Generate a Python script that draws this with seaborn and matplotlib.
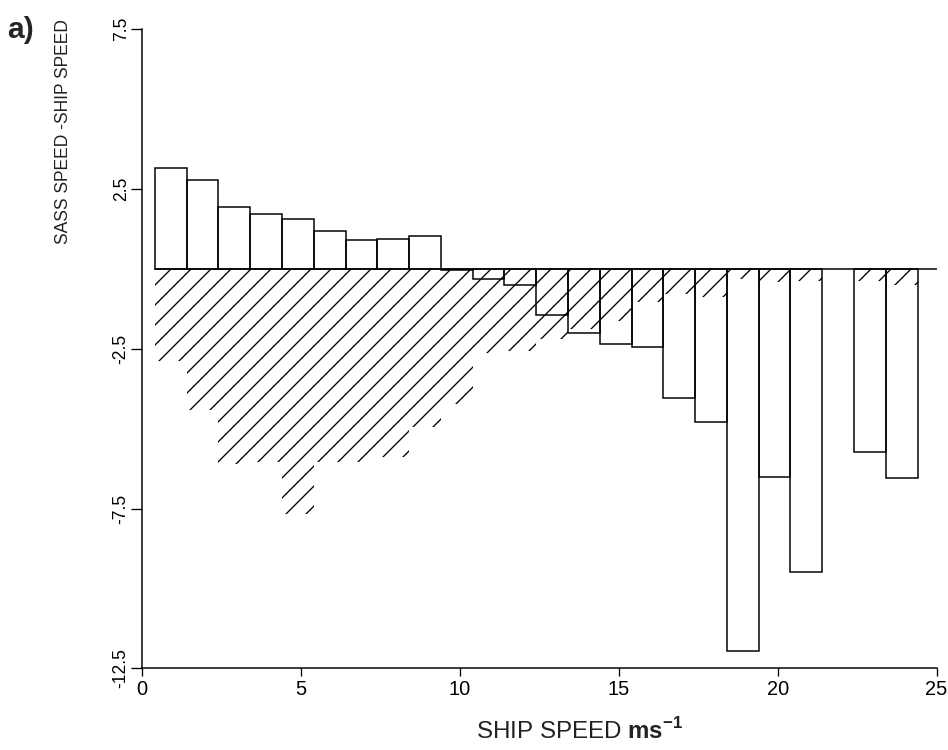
#!/usr/bin/env python3
"""SASS minus ship wind speed, binned by ship speed (panel a)."""

import matplotlib
matplotlib.use("Agg")
import matplotlib.pyplot as plt
import numpy as np
import pandas as pd
import seaborn as sns

# ship-speed class centres (m/s)
SPEED_BINS = [0.9, 1.9, 2.9, 3.9, 4.9, 5.9, 6.9, 7.9, 8.9, 9.9, 10.9, 11.9,
              12.9, 13.9, 14.9, 15.9, 16.9, 17.9, 18.9, 19.9, 20.9, 21.9, 22.9, 23.9]
# mean SASS - ship speed per class (open bars); class 22 is empty
MEAN_DIFF = [3.16, 2.79, 1.94, 1.71, 1.57, 1.17, 0.91, 0.93, 1.02, -0.05, -0.33, -0.52,
             -1.44, -2.01, -2.35, -2.45, -4.05, -4.78, -11.97, -6.51, -9.48, np.nan, -5.74, -6.56]
# spread per class, drawn downward as hatched bars
SPREAD = [-2.87, -4.43, -6.11, -6.05, -7.67, -6.06, -6.06, -5.90, -4.96, -4.23, -2.62, -2.56,
          -2.19, -1.88, -1.62, -1.05, -0.78, -0.89, -0.31, -0.42, -0.37, np.nan, -0.37, -0.52]

X_TICKS = [0, 5, 10, 15, 20, 25]
Y_TICKS = [-12.5, -7.5, -2.5, 2.5, 7.5]
Y_TICK_LABELS = ["-12.5", "-7.5", "-2.5", "2.5", "7.5"]

sns.set_theme(style="ticks")
plt.rcParams["font.family"] = ["Liberation Sans", "DejaVu Sans"]
plt.rcParams["axes.unicode_minus"] = False
plt.rcParams["mathtext.fontset"] = "custom"
plt.rcParams["mathtext.rm"] = "Liberation Sans"
plt.rcParams["mathtext.bf"] = "Liberation Sans:bold"
plt.rcParams["hatch.linewidth"] = 0.8

df = pd.DataFrame({"speed": SPEED_BINS, "mean": MEAN_DIFF, "spread": SPREAD})

fig = plt.figure(figsize=(7.9, 6.25), dpi=120)
ax = fig.add_axes([0.150, 0.109, 0.838, 0.852])

sns.barplot(data=df.dropna(subset=["spread"]), x="speed", y="spread", native_scale=True,
            width=1.0, fill=False, color="black", linewidth=0, hatch="//",
            errorbar=None, ax=ax)
sns.barplot(data=df.dropna(subset=["mean"]), x="speed", y="mean", native_scale=True,
            width=1.0, fill=False, color="black", linewidth=0.9,
            errorbar=None, ax=ax)

ax.set_xlim(X_TICKS[0], X_TICKS[-1])
ax.set_ylim(Y_TICKS[0], Y_TICKS[-1])
ax.axhline(0, xmin=(SPEED_BINS[0] - 0.5) / X_TICKS[-1], xmax=1, color="black", lw=0.9)

ax.set_xticks(X_TICKS)
ax.set_xticklabels([str(t) for t in X_TICKS], fontsize=12)
ax.set_yticks(Y_TICKS)
ax.set_yticklabels(Y_TICK_LABELS, fontsize=10.5)
for lbl in ax.get_yticklabels():
    lbl.set_rotation(90)
    lbl.set_va("center")
ax.tick_params(axis="x", length=5, width=0.8, pad=2, colors="black")
ax.tick_params(axis="y", length=6.5, width=0.8, pad=1, colors="black")
for side in ("left", "bottom"):
    ax.spines[side].set_color("black")
    ax.spines[side].set_linewidth(0.9)
sns.despine(ax=ax)

ax.set_ylabel("SASS SPEED -SHIP SPEED", fontsize=10.5, color="#222222")
ax.yaxis.set_label_coords(-0.088, 0.84)
ax.set_xlabel(r"SHIP SPEED $\mathbf{ms}^{\mathbf{-1}}$", fontsize=14.5, color="#222222")
ax.xaxis.set_label_coords(0.551, -0.078)

fig.text(0.008, 0.978, "a)", fontsize=18, fontweight="bold",
         ha="left", va="top")

fig.savefig("out.png", dpi=120)
